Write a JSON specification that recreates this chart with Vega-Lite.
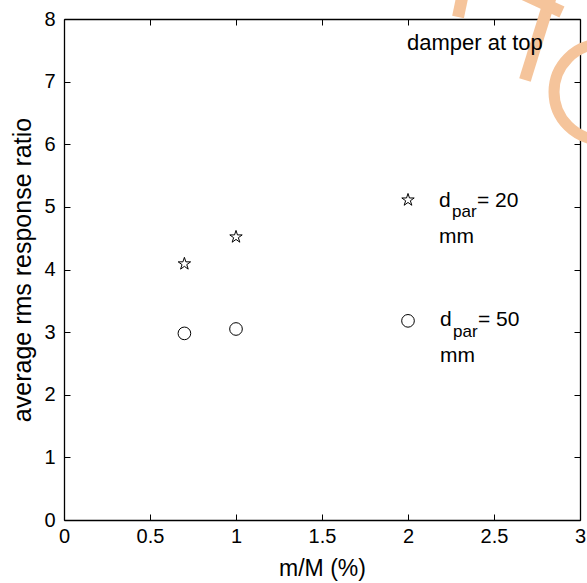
{
  "$schema": "https://vega.github.io/schema/vega-lite/v6.json",
  "width": 516,
  "height": 501,
  "autosize": {"type": "none"},
  "padding": {"left": 64, "top": 19, "right": 7, "bottom": 63},
  "background": "white",
  "config": {
    "font": "Liberation Sans",
    "view": {"stroke": null},
    "axis": {
      "grid": false,
      "domainColor": "black",
      "tickColor": "black",
      "labelColor": "black",
      "titleColor": "black",
      "labelFont": "Liberation Sans",
      "titleFont": "Liberation Sans",
      "labelFontSize": 20,
      "titleFontSize": 23,
      "titleFontWeight": "normal",
      "tickSize": -6,
      "domainWidth": 1.3,
      "tickWidth": 1,
      "zindex": 1
    }
  },
  "datasets": {
    "pts": [
      {"mM": 0.7, "ratio": 4.09, "series": "d20"},
      {"mM": 1.0, "ratio": 4.52, "series": "d20"},
      {"mM": 2.0, "ratio": 5.11, "series": "d20"},
      {"mM": 0.7, "ratio": 2.98, "series": "d50"},
      {"mM": 1.0, "ratio": 3.05, "series": "d50"},
      {"mM": 2.0, "ratio": 3.18, "series": "d50"}
    ],
    "main": [
      {"mM": 2.18, "ratio": 5.0, "label": "d"},
      {"mM": 2.186, "ratio": 3.098, "label": "d"},
      {"mM": 2.18, "ratio": 4.423, "label": "mm"},
      {"mM": 2.186, "ratio": 2.523, "label": "mm"},
      {"mM": 2.401, "ratio": 5.0, "label": "= 20"},
      {"mM": 2.407, "ratio": 3.098, "label": "= 50"}
    ],
    "sub": [
      {"mM": 2.256, "ratio": 4.838, "label": "par"},
      {"mM": 2.262, "ratio": 2.922, "label": "par"}
    ],
    "note": [
      {"mM": 1.994, "ratio": 7.505, "label": "damper at top"}
    ],
    "wm": [
      {"xa": 2.314, "ya": 8.335, "xb": 2.291, "yb": 8.032},
      {"xa": 2.680, "ya": 7.026, "xb": 2.831, "yb": 8.367},
      {"xa": 2.593, "ya": 8.495, "xb": 2.895, "yb": 8.112}
    ],
    "wmc": [
      {"mM": 3.128, "ratio": 6.834}
    ]
  },
  "resolve": {"axis": {"x": "independent", "y": "independent"}},
  "layer": [
    {
      "data": {"name": "wm"},
      "mark": {"type": "rule", "color": "#f5c49b", "strokeWidth": 12, "strokeCap": "butt", "clip": false},
      "encoding": {
        "x": {"field": "xa", "type": "quantitative", "scale": {"domain": [0, 3], "nice": false, "zero": false}, "axis": {"title": "m/M (%)", "values": [0, 0.5, 1, 1.5, 2, 2.5, 3], "format": "~g", "labelPadding": 12, "titlePadding": 11, "labelFlush": false, "labelOverlap": false}},
        "y": {"field": "ya", "type": "quantitative", "scale": {"domain": [0, 8], "nice": false}, "axis": {"title": "average rms response ratio", "titleFontSize": 25, "values": [0, 1, 2, 3, 4, 5, 6, 7, 8], "labelPadding": 15, "titlePadding": 8, "labelFlush": false, "labelOverlap": false}},
        "x2": {"field": "xb"},
        "y2": {"field": "yb"}
      }
    },
    {
      "data": {"name": "wmc"},
      "mark": {"type": "point", "shape": "circle", "filled": false, "stroke": "#f5c49b", "strokeWidth": 11, "size": 9216, "opacity": 1, "clip": false},
      "encoding": {
        "x": {"field": "mM", "type": "quantitative", "axis": {"orient": "top", "labels": false, "title": null, "values": [0, 0.5, 1, 1.5, 2, 2.5, 3]}},
        "y": {"field": "ratio", "type": "quantitative", "axis": {"orient": "right", "labels": false, "title": null, "values": [0, 1, 2, 3, 4, 5, 6, 7, 8]}}
      }
    },
    {
      "data": {"name": "pts"},
      "transform": [{"filter": "datum.series === 'd20'"}],
      "mark": {"type": "point", "shape": "M0,-1L0.2245,-0.309L0.951,-0.309L0.3633,0.118L0.5878,0.809L0,0.382L-0.5878,0.809L-0.3633,0.118L-0.951,-0.309L-0.2245,-0.309Z", "filled": false, "stroke": "black", "strokeWidth": 1, "size": 170, "opacity": 1},
      "encoding": {
        "x": {"field": "mM", "type": "quantitative", "axis": null},
        "y": {"field": "ratio", "type": "quantitative", "axis": null}
      }
    },
    {
      "data": {"name": "pts"},
      "transform": [{"filter": "datum.series === 'd50'"}],
      "mark": {"type": "point", "shape": "circle", "filled": false, "stroke": "black", "strokeWidth": 1, "size": 160, "opacity": 1},
      "encoding": {
        "x": {"field": "mM", "type": "quantitative", "axis": null},
        "y": {"field": "ratio", "type": "quantitative", "axis": null}
      }
    },
    {
      "data": {"name": "main"},
      "mark": {"type": "text", "align": "left", "baseline": "alphabetic", "fontSize": 21, "color": "black", "font": "Liberation Sans"},
      "encoding": {
        "x": {"field": "mM", "type": "quantitative", "axis": null},
        "y": {"field": "ratio", "type": "quantitative", "axis": null},
        "text": {"field": "label"}
      }
    },
    {
      "data": {"name": "sub"},
      "mark": {"type": "text", "align": "left", "baseline": "alphabetic", "fontSize": 17, "color": "black", "font": "Liberation Sans"},
      "encoding": {
        "x": {"field": "mM", "type": "quantitative", "axis": null},
        "y": {"field": "ratio", "type": "quantitative", "axis": null},
        "text": {"field": "label"}
      }
    },
    {
      "data": {"name": "note"},
      "mark": {"type": "text", "align": "left", "baseline": "alphabetic", "fontSize": 22, "color": "black", "font": "Liberation Sans"},
      "encoding": {
        "x": {"field": "mM", "type": "quantitative", "axis": null},
        "y": {"field": "ratio", "type": "quantitative", "axis": null},
        "text": {"field": "label"}
      }
    }
  ]
}
